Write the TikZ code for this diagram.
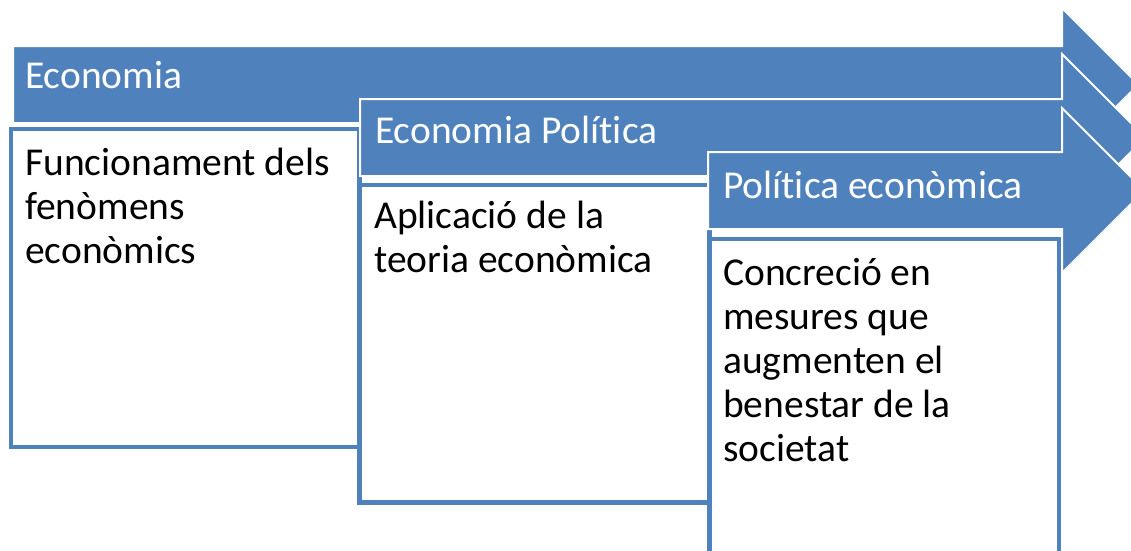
\documentclass[tikz,border=0pt]{standalone}
\usepackage{fontspec}
\setmainfont{Carlito}[RawFeature={-liga;-clig;-calt;-dlig}]
\definecolor{accent}{HTML}{4F81BD}

\begin{document}
\begin{tikzpicture}[x=1pt, y=-1pt,
	band/.style={fill=accent, draw=white, line width=2pt, line join=miter},
	card/.style={fill=white, draw=accent, line width=4.5pt},
	headtext/.style={anchor=base west, inner sep=0pt, text=white, font=\fontsize{39.5}{44}\selectfont},
	bodytext/.style={anchor=base west, inner sep=0pt, align=left, font=\fontsize{39.5}{44}\selectfont}]

	\useasboundingbox (0,0) rectangle (1131,550);
	\clip (0,0) rectangle (1131,550);

	% first step
	\draw[band] (13,46) -- (1062,46) -- (1062,8) -- (1138.5,84.5) -- (1062,161) -- (1062,123) -- (13,123) -- cycle;
	\draw[card] (11,129) rectangle (359.5,447);
	\node[headtext] (hdA) at (25,88) {Economia};
	% base of a multi-line node is its last line
	\node[bodytext] (txtA) at (25,263) {Funcionament dels\\fenòmens\\econòmics};

	% second step
	\draw[band] (360,99) -- (1062,99) -- (1062,54) -- (1145.5,137.5) -- (1062,221) -- (1062,176) -- (360,176) -- cycle;
	\draw[card] (359.5,185) rectangle (709.5,502.5);
	\node[headtext] (hdB) at (375,143) {Economia Polít\kern0pt ica};
	\node[bodytext] (txtB) at (374,272) {Aplicació de la\\teoria econòmica};

	% third step
	\draw[band] (708,152) -- (1062,152) -- (1062,108) -- (1144.5,190.5) -- (1062,273) -- (1062,229) -- (708,229) -- cycle;
	\draw[card] (709.5,239) rectangle (1059,565);
	\node[headtext] (hdC) at (723,198) {Polít\kern0pt ica econòmica};
	\node[bodytext] (txtC) at (723,461) {Concreció en\\mesures que\\augmenten el\\benestar de la\\societat};

\end{tikzpicture}
\end{document}
